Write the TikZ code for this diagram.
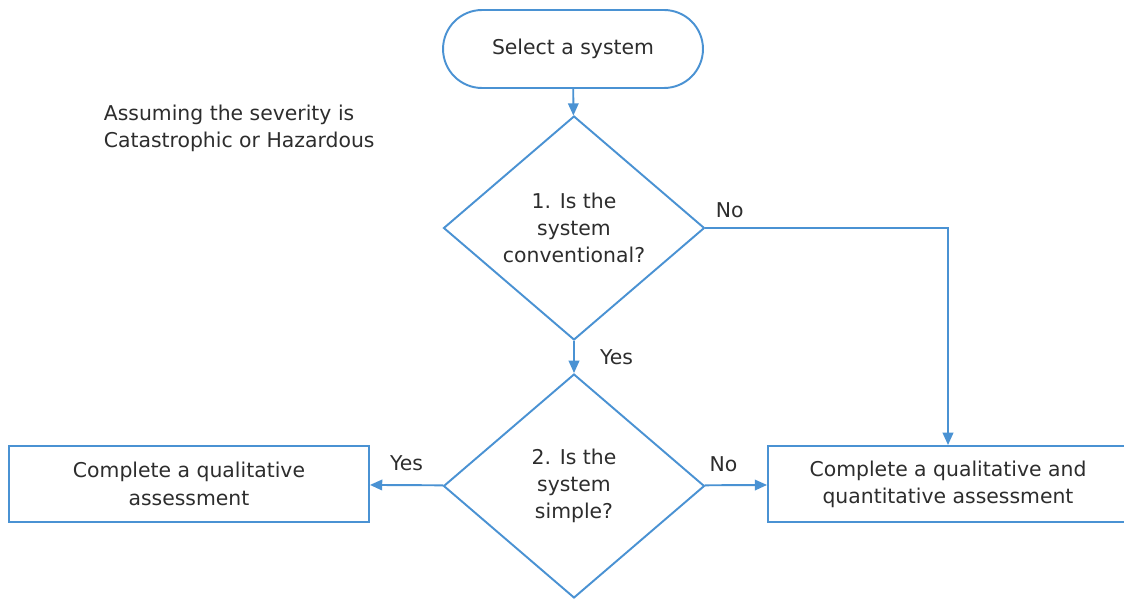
\documentclass[tikz,border=0pt]{standalone}
\usepackage{fontspec}
\setmainfont{DejaVu Sans}
\usetikzlibrary{shapes.geometric,arrows.meta}
\definecolor{flowblue}{RGB}{74,146,211}
\definecolor{flowtext}{RGB}{45,45,45}

\begin{document}
\begin{tikzpicture}[x=0.02cm,y=-0.02cm,line width=1.1pt,
	every node/.style={text=flowtext,font=\fontsize{11.6}{15.5}\selectfont},
	term/.style={draw=flowblue,fill=white,rounded corners=0.78cm,minimum width=5.2cm,minimum height=1.56cm},
	decision/.style={diamond,draw=flowblue,fill=white,align=center,inner sep=0pt,minimum width=5.22cm,minimum height=4.48cm},
	box/.style={rectangle,draw=flowblue,fill=white,align=center,minimum width=7.2cm,minimum height=1.52cm},
	flow/.style={draw=flowblue,-{Triangle[length=7pt,width=6pt]}}]
	\clip (0,0) rectangle (1124,598);
	\path (573,49) node(sel)[term]{Select a system}
		(574,228) node(q1)[decision]{1. Is the\\system\\conventional?}
		(574,486) node(q2)[decision]{2. Is the\\system\\simple?}
		(189,484) node(qual)[box]{Complete a qualitative\\assessment}
		(948,484) node(quant)[box]{Complete a qualitative and\\quantitative assessment}
		(97,128) node(note)[anchor=west,align=left]{Assuming the severity is\\Catastrophic or Hazardous};
	\draw[flow] (sel) -- (q1);
	\draw[flow] (q1) -- node[right,xshift=11pt]{Yes} (q2);
	\draw[flow] (q1.east) -| node[pos=0.05,above,yshift=2pt]{No} (quant);
	\draw[flow] (q2) -- node[above,yshift=4pt]{Yes} (qual);
	\draw[flow] (q2) -- node[pos=0.3,above,yshift=4pt]{No} (quant);
\end{tikzpicture}
\end{document}
